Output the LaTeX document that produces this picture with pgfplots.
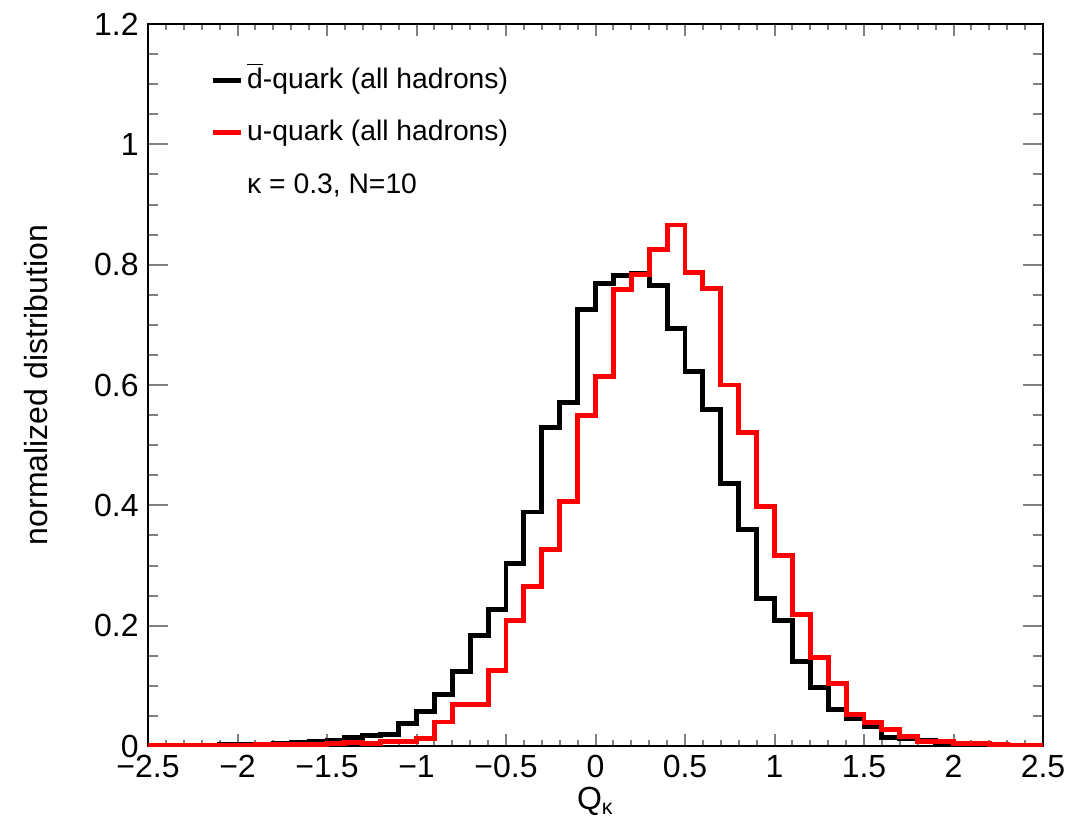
\documentclass[border=0pt]{standalone}
\usepackage{fontspec}
\setmainfont{Liberation Sans}
\usepackage{pgfplots}
\pgfplotsset{compat=1.18}

\begin{document}
\begin{tikzpicture}
\begin{axis}[
    scale only axis,
    width=335.6pt, height=270.75pt,
    xmin=-2.5, xmax=2.5, ymin=0, ymax=1.2,
    xtick={-2.5,-2,-1.5,-1,-0.5,0,0.5,1,1.5,2,2.5},
    xticklabels={−2.5,−2,−1.5,−1,−0.5,0,0.5,1,1.5,2,2.5},
    ytick={0,0.2,0.4,0.6,0.8,1,1.2},
    yticklabels={0,0.2,0.4,0.6,0.8,1,1.2},
    minor x tick num=4,
    minor y tick num=3,
    tick align=inside,
    xtick pos=both, ytick pos=both,
    xtick style={line width=0.75pt, /pgfplots/major tick length=4.5pt, /pgfplots/minor tick length=2.2pt},
    ytick style={line width=0.75pt, /pgfplots/major tick length=7.5pt, /pgfplots/minor tick length=3.75pt},
    axis line style={line width=0.75pt},
    tick label style={font=\fontsize{12}{14}\selectfont},
    xlabel={Q\textsubscript{κ}},
    ylabel={normalized distribution},
    label style={font=\fontsize{12}{14}\selectfont},
    xlabel style={at={(rel axis cs:0.5,-0.088)}, anchor=base},
    ylabel style={at={(rel axis cs:-0.125,0.5)}, anchor=center},
    legend cell align=left,
    legend style={draw=none, fill=none, at={(rel axis cs:0.069,0.941)}, anchor=north west,
        inner sep=0pt, row sep=9.6pt, font=\fontsize{10.6}{13}\selectfont,
        nodes={text height=8pt, text depth=2pt, inner ysep=0pt, inner xsep=1.5pt}},
    legend image code/.code={\draw[#1] (0pt,0pt) -- (10.5pt,0pt);},
]
% d-bar quark, bins of 0.1 from -2.5 to 2.5 (left edges)
\addplot[black, line width=1.85pt, const plot mark left] coordinates {
(-2.5,0.001) (-2.4,0.001) (-2.3,0.001) (-2.2,0.001) (-2.1,0.002)
(-2.0,0.002) (-1.9,0.003) (-1.8,0.004) (-1.7,0.006) (-1.6,0.007)
(-1.5,0.009) (-1.4,0.015) (-1.3,0.017) (-1.2,0.019) (-1.1,0.037)
(-1.0,0.058) (-0.9,0.085) (-0.8,0.124) (-0.7,0.184) (-0.6,0.227)
(-0.5,0.303) (-0.4,0.389) (-0.3,0.530) (-0.2,0.571) (-0.1,0.726)
(0.0,0.769) (0.1,0.782) (0.2,0.786) (0.3,0.766) (0.4,0.694)
(0.5,0.622) (0.6,0.560) (0.7,0.436) (0.8,0.360) (0.9,0.246)
(1.0,0.209) (1.1,0.140) (1.2,0.097) (1.3,0.061) (1.4,0.046)
(1.5,0.032) (1.6,0.015) (1.7,0.012) (1.8,0.010) (1.9,0.005)
(2.0,0.004) (2.1,0.003) (2.2,0.002) (2.3,0.001) (2.4,0.001)
(2.5,0.001)
};
\addlegendentry{$\overline{\mbox{d}}$-quark (all hadrons)}
% u quark
\addplot[red, line width=1.85pt, const plot mark left] coordinates {
(-2.5,0.001) (-2.4,0.001) (-2.3,0.001) (-2.2,0.001) (-2.1,0.001)
(-2.0,0.001) (-1.9,0.002) (-1.8,0.002) (-1.7,0.003) (-1.6,0.003)
(-1.5,0.004) (-1.4,0.006) (-1.3,0.004) (-1.2,0.008) (-1.1,0.008)
(-1.0,0.012) (-0.9,0.040) (-0.8,0.069) (-0.7,0.069) (-0.6,0.126)
(-0.5,0.209) (-0.4,0.265) (-0.3,0.327) (-0.2,0.406) (-0.1,0.549)
(0.0,0.614) (0.1,0.759) (0.2,0.784) (0.3,0.825) (0.4,0.866)
(0.5,0.787) (0.6,0.761) (0.7,0.600) (0.8,0.521) (0.9,0.398)
(1.0,0.317) (1.1,0.218) (1.2,0.147) (1.3,0.104) (1.4,0.053)
(1.5,0.039) (1.6,0.027) (1.7,0.016) (1.8,0.008) (1.9,0.007)
(2.0,0.005) (2.1,0.004) (2.2,0.003) (2.3,0.001) (2.4,0.001)
(2.5,0.001)
};
\addlegendentry{u-quark (all hadrons)}
\addlegendimage{draw opacity=0}
\addlegendentry{κ = 0.3, N=10}
\path (rel axis cs:0,0) coordinate (bl) (rel axis cs:1,1) coordinate (tr);
\end{axis}
\pgfresetboundingbox
\path[use as bounding box] ([shift={(-55.5pt,-27.75pt)}]bl) rectangle ([shift={(9.375pt,9pt)}]tr);
\end{tikzpicture}
\end{document}
